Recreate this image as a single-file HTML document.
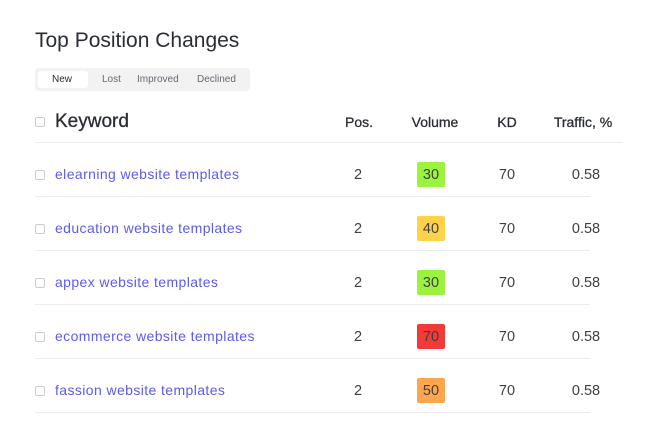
<!DOCTYPE html><html><head><style>
body{margin:0;width:659px;height:443px;background:#fff;font-family:"Liberation Sans",sans-serif;position:relative;overflow:hidden}
.a{position:absolute}
.t{left:35px;top:29px;font-size:21px;color:#2a2d33;font-weight:500}
.tabs{left:35px;top:68px;width:215px;height:23px;background:#f2f2f3;border-radius:4px}
.tab{position:absolute;top:6px;font-size:10px;color:#666a73}
.cb{position:absolute;width:8px;height:8px;border:1px solid #c9cbd0;border-radius:2px;left:35px}
.h{font-size:14px;color:#2a2d33;top:114px;-webkit-text-stroke:0.3px #2a2d33}
.c{transform:translateX(-50%);text-align:center}
.row{font-size:14.5px;color:#3c3f45}
.kw{color:#5b5bf0;font-size:14px;letter-spacing:0.4px}
.b{width:28px;height:25px;border-radius:2px;line-height:26px;text-align:center;font-size:14.5px;color:#3c3f45}
.ln{height:1px;background:#ececee;left:35px}
</style></head><body>
<div class="a t">Top Position Changes</div>
<div class="a tabs"><div style="position:absolute;left:3px;top:3px;width:50px;height:17px;background:#fff;border-radius:3px"></div>
<span class="tab" style="left:17px;color:#2a2d33">New</span><span class="tab" style="left:67px">Lost</span><span class="tab" style="left:102px">Improved</span><span class="tab" style="left:162px">Declined</span></div>
<div class="cb" style="top:117px"></div>
<div class="a" style="left:55px;top:111px;font-size:19px;color:#2a2d33;font-weight:500;-webkit-text-stroke:0.3px #2a2d33">Keyword</div>
<div class="a h c" style="left:359px">Pos.</div>
<div class="a h c" style="left:435px">Volume</div>
<div class="a h c" style="left:507px">KD</div>
<div class="a h c" style="left:583px">Traffic, %</div>
<div class="a ln" style="top:142px;width:588px"></div>
<div id="rows"></div>
<script>
var d=[["elearning website templates","30","#9cf33e"],["education website templates","40","#ffd24a"],["appex website templates","30","#9cf33e"],["ecommerce website templates","70","#f43a36"],["fassion website templates","50","#ffa64d"]];
var h="";d.forEach(function(r,i){var y=175+i*54;
h+='<div class="cb" style="top:'+(y-5)+'px"></div><div class="a row kw" style="left:55px;top:'+(y-9)+'px">'+r[0]+'</div>'+
'<div class="a row c" style="left:358px;top:'+(y-8)+'px">2</div><div class="a b" style="left:417px;top:'+(y-13)+'px;background:'+r[2]+'">'+r[1]+'</div>'+
'<div class="a row c" style="left:507px;top:'+(y-8)+'px">70</div><div class="a row c" style="left:586px;top:'+(y-8)+'px">0.58</div>'+
'<div class="a ln" style="top:'+(y+21)+'px;width:555px"></div>';});
document.getElementById("rows").innerHTML=h;
</script>
</body></html>
